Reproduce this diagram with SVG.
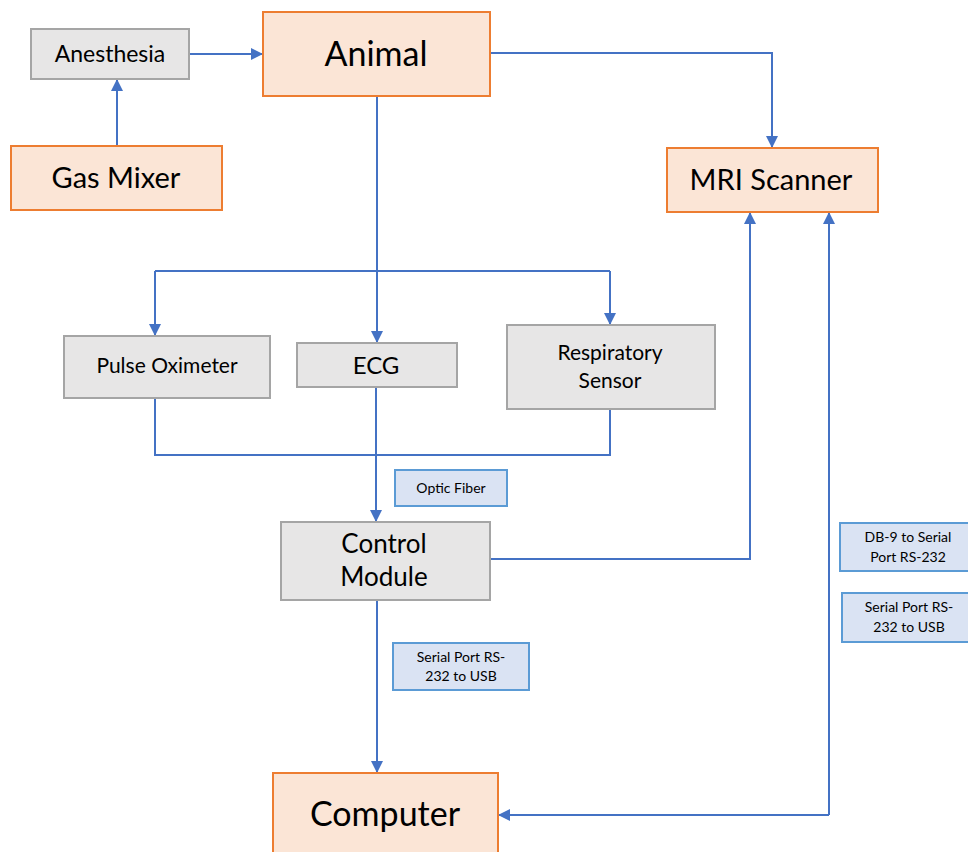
<svg xmlns="http://www.w3.org/2000/svg" width="968" height="852" viewBox="0 0 968 852">
  <defs>
    <marker id="ah" viewBox="0 0 12 12" refX="12" refY="6" markerWidth="12" markerHeight="12" orient="auto" markerUnits="userSpaceOnUse">
      <path d="M0,0 L12,6 L0,12 z" fill="#4472C4"/>
    </marker>
    <style>
      .orange { fill: #FBE5D6; stroke: #ED7D31; stroke-width: 2; }
      .gray { fill: #E7E6E6; stroke: #A5A5A5; stroke-width: 2; }
      .tag { fill: #DAE3F3; stroke: #5B9BD5; stroke-width: 2; }
      text { font-family: Lato, "Open Sans", "Liberation Sans", sans-serif; fill: #000; text-anchor: middle; }
      .wire { fill: none; stroke: #4472C4; stroke-width: 2; }
      .arr { marker-end: url(#ah); }
    </style>
  </defs>
  <rect width="968" height="852" fill="#fff"/>

  <!-- connectors -->
  <g id="connectors">
    <path class="wire arr" d="M189,54 H263"/>
    <path class="wire arr" d="M117,146 V79"/>
    <path class="wire arr" d="M490,53 H772 V148"/>
    <path class="wire arr" d="M377,96 V343"/>
    <path class="wire" d="M155,271 H610"/>
    <path class="wire arr" d="M155,271 V336"/>
    <path class="wire arr" d="M610,271 V325"/>
    <path class="wire" d="M155,398 V455 H610 V409"/>
    <path class="wire arr" d="M376,387 V522"/>
    <path class="wire arr" d="M490,559 H750 V212"/>
    <path class="wire arr" d="M377,600 V773"/>
    <path class="wire arr" d="M829,815 V212"/>
    <path class="wire arr" d="M829,815 H498"/>
  </g>

  <g id="anesthesia">
    <rect class="gray" x="31" y="29" width="158" height="50"/>
    <text x="110" y="62" font-size="23">Anesthesia</text>
  </g>
  <g id="animal">
    <rect class="orange" x="263" y="12" width="227" height="84"/>
    <text x="376" y="66" font-size="34">Animal</text>
  </g>
  <g id="gas-mixer">
    <rect class="orange" x="11" y="146" width="211" height="64"/>
    <text x="116" y="188" font-size="29">Gas Mixer</text>
  </g>
  <g id="mri-scanner">
    <rect class="orange" x="667" y="148" width="211" height="64"/>
    <text x="771" y="190" font-size="29">MRI Scanner</text>
  </g>
  <g id="pulse-oximeter">
    <rect class="gray" x="64" y="336" width="206" height="62"/>
    <text x="167" y="373" font-size="21">Pulse Oximeter</text>
  </g>
  <g id="ecg">
    <rect class="gray" x="297" y="343" width="160" height="44"/>
    <text x="376" y="374" font-size="24">ECG</text>
  </g>
  <g id="respiratory-sensor">
    <rect class="gray" x="507" y="325" width="208" height="84"/>
    <text x="610" y="360" font-size="21">Respiratory</text>
    <text x="610" y="388" font-size="21">Sensor</text>
  </g>
  <g id="optic-fiber">
    <rect class="tag" x="395" y="470" width="112" height="36"/>
    <text x="451" y="493" font-size="14">Optic Fiber</text>
  </g>
  <g id="control-module">
    <rect class="gray" x="281" y="522" width="209" height="78"/>
    <text x="384" y="553" font-size="26">Control</text>
    <text x="384" y="586" font-size="26">Module</text>
  </g>
  <g id="serial-usb-left">
    <rect class="tag" x="393" y="643" width="136" height="47"/>
    <text x="461" y="662" font-size="14">Serial Port RS-</text>
    <text x="461" y="681" font-size="14">232 to USB</text>
  </g>
  <g id="db9-serial">
    <rect class="tag" x="840" y="523" width="140" height="48"/>
    <text x="908" y="542" font-size="14">DB-9 to Serial</text>
    <text x="908" y="562" font-size="14">Port RS-232</text>
  </g>
  <g id="serial-usb-right">
    <rect class="tag" x="842" y="593" width="138" height="49"/>
    <text x="909" y="612" font-size="14">Serial Port RS-</text>
    <text x="909" y="632" font-size="14">232 to USB</text>
  </g>
  <g id="computer">
    <rect class="orange" x="273" y="773" width="225" height="90"/>
    <text x="385" y="826" font-size="34">Computer</text>
  </g>
</svg>
